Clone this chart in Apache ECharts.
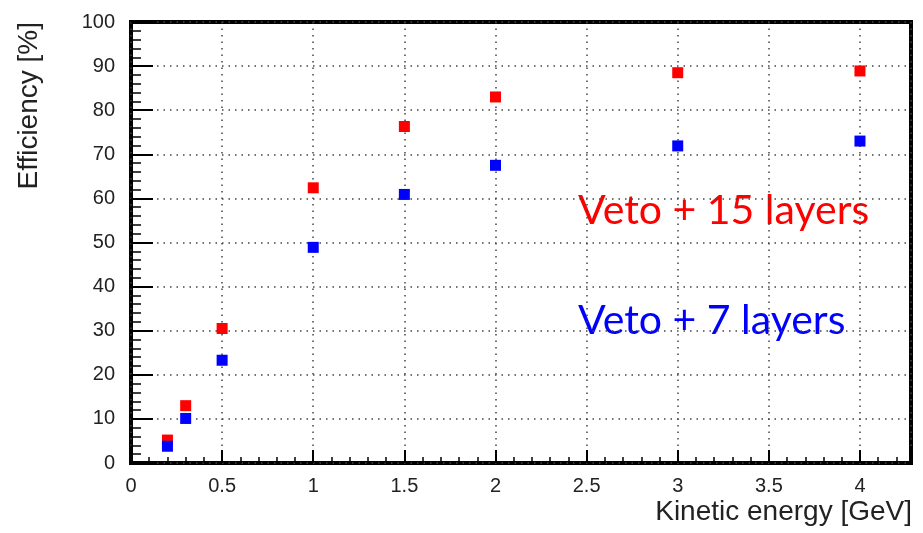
<!DOCTYPE html>
<html>
<head>
<meta charset="utf-8">
<script src="https://cdn.jsdelivr.net/npm/echarts@6/dist/echarts.min.js"></script>
<style>html,body{margin:0;padding:0;background:#fff;}#c{width:923px;height:533px;}</style>
</head>
<body>
<div id="c"></div>
<script>
// Data
var energies = [0.2, 0.3, 0.5, 1, 1.5, 2, 3, 4];
var veto15 = [5.2, 13.0, 30.5, 62.4, 76.3, 83.0, 88.5, 88.9];
var veto7 = [3.8, 10.1, 23.3, 48.9, 60.9, 67.5, 71.9, 73.0];
var xTitle = 'Kinetic energy [GeV]';
var yTitle = 'Efficiency [%]';
var label15 = 'Veto + 15 layers';
var label7 = 'Veto + 7 layers';

function pairs(xs, ys) { return xs.map(function (x, i) { return [x, ys[i]]; }); }

var chart = echarts.init(document.getElementById('c'), null, { renderer: 'canvas' });
var font = '"Liberation Sans", Arial, Helvetica, sans-serif';
var gridLine = { show: true, lineStyle: { color: '#444', width: 1.5, type: [1.5, 5] } };

chart.setOption({
  animation: false,
  backgroundColor: '#fff',
  grid: { left: 131, right: 12, top: 22, bottom: 70, show: true, borderColor: '#000', borderWidth: 4, backgroundColor: 'transparent' },
  xAxis: {
    type: 'value', min: 0, max: 4.28, interval: 0.5,
    axisLine: { show: false },
    axisTick: { show: true, inside: true, length: 13, lineStyle: { color: '#000', width: 2 } },
    minorTick: { show: true, splitNumber: 5, length: 6, lineStyle: { color: '#000', width: 1.5 } },
    axisLabel: { show: true, showMaxLabel: false, margin: 13, fontSize: 20, fontFamily: font, color: '#222',
      formatter: function (v) { return String(Math.round(v * 10) / 10); } },
    splitLine: gridLine
  },
  yAxis: {
    type: 'value', min: 0, max: 100, interval: 10,
    axisLine: { show: false },
    axisTick: { show: true, inside: true, length: 22, lineStyle: { color: '#000', width: 2 } },
    minorTick: { show: true, splitNumber: 5, length: 10, lineStyle: { color: '#000', width: 1.5 } },
    axisLabel: { show: true, margin: 16, fontSize: 20, fontFamily: font, color: '#222' },
    splitLine: gridLine
  },
  series: [
    { name: label15, type: 'scatter', symbol: 'rect', symbolSize: 11, itemStyle: { color: '#ff0000', opacity: 1 }, data: pairs(energies, veto15), z: 3 },
    { name: label7, type: 'scatter', symbol: 'rect', symbolSize: 11, itemStyle: { color: '#0000ff', opacity: 1 }, data: pairs(energies, veto7), z: 4 }
  ],
  graphic: [
    { type: 'text', x: 912, y: 512, style: { text: xTitle, font: '28px ' + font, fill: '#222', textAlign: 'right', textVerticalAlign: 'middle' } },
    { type: 'text', x: 29, y: 22, rotation: Math.PI / 2, style: { text: yTitle, font: '28px ' + font, fill: '#222', textAlign: 'right', textVerticalAlign: 'middle' } },
    { type: 'text', x: 578, y: 211, style: { text: label15, font: '41px Lato, "Open Sans", sans-serif', fill: '#ff0000', textAlign: 'left', textVerticalAlign: 'middle' } },
    { type: 'text', x: 578, y: 321, style: { text: label7, font: '41px Lato, "Open Sans", sans-serif', fill: '#0000ff', textAlign: 'left', textVerticalAlign: 'middle' } }
  ]
});
</script>
</body>
</html>
